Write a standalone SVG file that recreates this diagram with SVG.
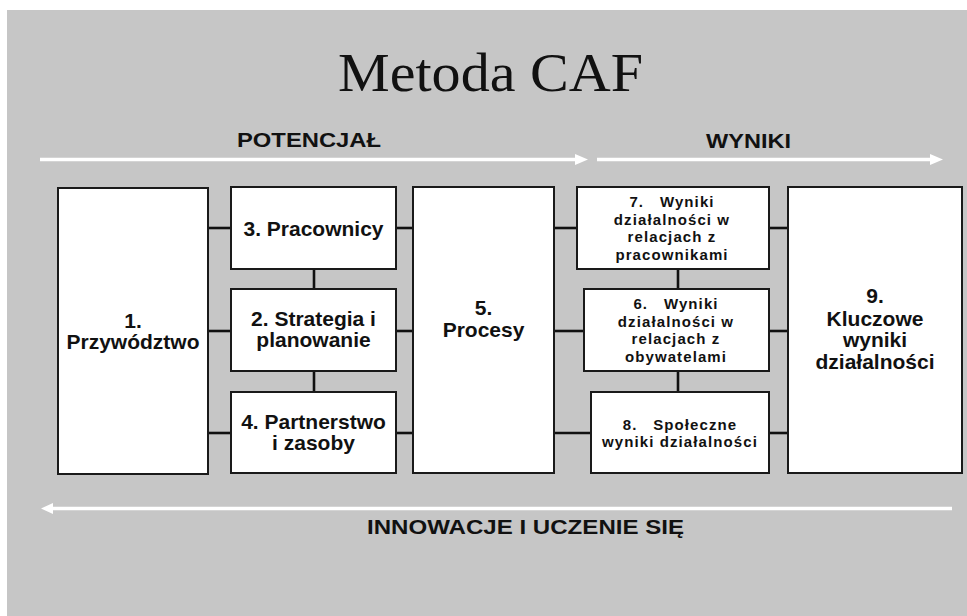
<svg xmlns="http://www.w3.org/2000/svg" width="967" height="616" viewBox="0 0 967 616">
<style>
.box{fill:#ffffff;stroke:#1a1a1a;stroke-width:2}
.con{stroke:#111;stroke-width:2.6;fill:none}
.arr{stroke:#ffffff;stroke-width:3.6;fill:none}
.head{fill:#ffffff}
.t{font-family:"Liberation Sans",Arial,sans-serif;font-weight:bold;fill:#111;text-anchor:middle}
.big{font-size:21px}
.sm{font-size:15px;letter-spacing:1.1px;white-space:pre}
.hd{font-family:"Liberation Sans",Arial,sans-serif;font-weight:bold;fill:#111;font-size:20px}
.title{font-family:"Liberation Serif","Times New Roman",serif;font-size:55px;fill:#111}
</style>
<rect x="0" y="0" width="967" height="616" fill="#ffffff"/>
<rect x="7" y="10" width="960" height="606" fill="#c6c6c6"/>
<text class="title" x="338" y="91" textLength="305" lengthAdjust="spacingAndGlyphs">Metoda CAF</text>
<g id="arrows">
<text class="hd" x="237" y="147" textLength="144" lengthAdjust="spacingAndGlyphs">POTENCJAŁ</text>
<text class="hd" x="706" y="148" textLength="85" lengthAdjust="spacingAndGlyphs">WYNIKI</text>
<line class="arr" x1="40" y1="159.5" x2="576" y2="159.5"/>
<polygon class="head" points="575,154 588,159.5 575,165"/>
<line class="arr" x1="597" y1="159.5" x2="931" y2="159.5"/>
<polygon class="head" points="930,154 943,159.5 930,165"/>
<line class="arr" x1="952" y1="508.5" x2="52" y2="508.5"/>
<polygon class="head" points="53,503 41,508.5 53,514"/>
<text class="hd" x="367" y="534" textLength="317" lengthAdjust="spacingAndGlyphs">INNOWACJE I UCZENIE SIĘ</text>
</g>
<g id="connectors">
<line class="con" x1="208" y1="228" x2="231" y2="228"/>
<line class="con" x1="208" y1="331" x2="231" y2="331"/>
<line class="con" x1="208" y1="433" x2="231" y2="433"/>
<line class="con" x1="396" y1="228" x2="413" y2="228"/>
<line class="con" x1="396" y1="331" x2="413" y2="331"/>
<line class="con" x1="396" y1="433" x2="413" y2="433"/>
<line class="con" x1="314" y1="269" x2="314" y2="289"/>
<line class="con" x1="314" y1="371" x2="314" y2="392"/>
<line class="con" x1="554" y1="228" x2="577" y2="228"/>
<line class="con" x1="554" y1="331" x2="584" y2="331"/>
<line class="con" x1="554" y1="433" x2="591" y2="433"/>
<line class="con" x1="678" y1="269" x2="678" y2="289"/>
<line class="con" x1="678" y1="371" x2="678" y2="392"/>
<line class="con" x1="769" y1="228" x2="788" y2="228"/>
<line class="con" x1="769" y1="331" x2="788" y2="331"/>
<line class="con" x1="769" y1="433" x2="788" y2="433"/>
</g>
<g id="n1">
<rect class="box" x="58" y="188" width="150" height="286"/>
<text class="t big" x="133" y="328">1.</text>
<text class="t big" x="133" y="349">Przywództwo</text>
</g>
<g id="n3">
<rect class="box" x="231" y="187" width="165" height="82"/>
<text class="t big" x="313.5" y="236">3. Pracownicy</text>
</g>
<g id="n2">
<rect class="box" x="231" y="289" width="165" height="82"/>
<text class="t big" x="313.5" y="326">2. Strategia i</text>
<text class="t big" x="313.5" y="347">planowanie</text>
</g>
<g id="n4">
<rect class="box" x="231" y="392" width="165" height="81"/>
<text class="t big" x="313.5" y="429">4. Partnerstwo</text>
<text class="t big" x="313.5" y="450">i zasoby</text>
</g>
<g id="n5">
<rect class="box" x="413" y="187" width="141" height="286"/>
<text class="t big" x="483.5" y="315">5.</text>
<text class="t big" x="483.5" y="337">Procesy</text>
</g>
<g id="n7">
<rect class="box" x="577" y="187" width="192" height="82"/>
<text class="t sm" x="672" y="207">7.   Wyniki</text>
<text class="t sm" x="672" y="224.5">działalności w</text>
<text class="t sm" x="672" y="242">relacjach z</text>
<text class="t sm" x="672" y="259.5">pracownikami</text>
</g>
<g id="n6">
<rect class="box" x="584" y="289" width="185" height="82"/>
<text class="t sm" x="676" y="309">6.   Wyniki</text>
<text class="t sm" x="676" y="326.5">działalności w</text>
<text class="t sm" x="676" y="344">relacjach z</text>
<text class="t sm" x="676" y="361.5">obywatelami</text>
</g>
<g id="n8">
<rect class="box" x="591" y="392" width="178" height="81"/>
<text class="t sm" x="680" y="429.5">8.   Społeczne</text>
<text class="t sm" x="680" y="447">wyniki działalności</text>
</g>
<g id="n9">
<rect class="box" x="788" y="187" width="174" height="286"/>
<text class="t big" x="875" y="303">9.</text>
<text class="t big" x="875" y="325.5">Kluczowe</text>
<text class="t big" x="875" y="347">wyniki</text>
<text class="t big" x="875" y="369">działalności</text>
</g>
</svg>
